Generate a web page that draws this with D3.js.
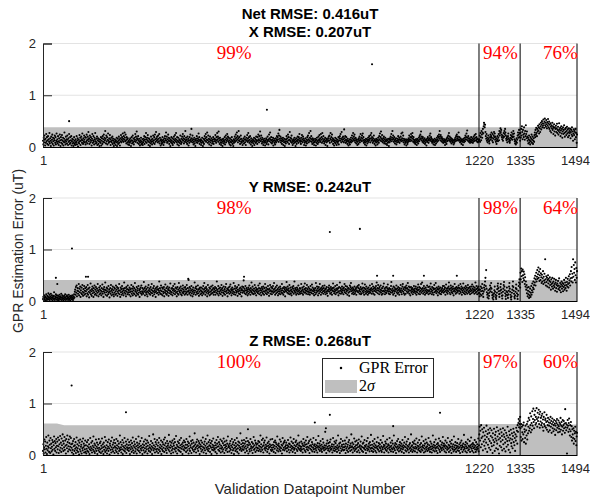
<!DOCTYPE html>
<html>
<head>
<meta charset="utf-8">
<script src="https://cdn.jsdelivr.net/npm/d3@7"></script>
<style>
  html, body { margin: 0; padding: 0; background: #fff; }
  svg { display: block; }
</style>
</head>
<body>
<svg id="chart" width="590" height="500"></svg>
<script>
// GPR estimation error per validation datapoint (hundredths of uT).
// Segments: datapoints 1-1220, 1221-1335, 1336-1494, one value per datapoint.
const segmentStarts = [1, 1221, 1336];
const indexDomain = [1, 1494];
const xTickValues = [1, 1220, 1335, 1494];
const yTickValues = [0, 1, 2];
const boundaryIndices = [1220, 1335, 1494];

const panelTitles = [["Net RMSE: 0.416uT", "X RMSE: 0.207uT"], ["Y RMSE: 0.242uT"], ["Z RMSE: 0.268uT"]];
const coverageLabels = [["99%", "94%", "76%"], ["98%", "98%", "64%"], ["100%", "97%", "60%"]];

// ---- X component ----
const xErrA = [
12,5,18,9,22,14,3,16,8,25,11,19,6,13,21,4,15,10,27,7,17,12,2,20,9,14,24,6,18,11,3,16,13,22,8,19,5,12,26,10,
15,7,21,11,4,17,9,24,13,2,19,8,14,23,6,12,18,3,10,16,28,9,13,5,20,11,15,7,22,14,4,17,10,25,12,6,19,8,13,21,
3,11,16,7,14,2,9,19,6,12,4,15,8,10,21,5,13,17,1,9,14,7,23,11,18,4,12,20,15,8,26,13,6,17,10,22,14,9,19,5,
18,10,24,13,7,20,15,29,11,17,6,22,14,9,19,12,3,16,25,8,13,21,10,5,18,14,27,11,7,16,9,20,4,13,17,6,11,15,2,10,
14,8,19,3,12,17,6,21,10,15,24,9,18,13,31,16,7,22,11,19,5,14,26,12,8,17,10,23,15,4,11,18,9,13,20,6,16,12,2,9,
7,15,11,4,13,9,18,2,10,16,6,12,20,8,14,3,17,11,23,9,15,19,12,26,16,10,21,14,28,18,11,24,13,7,19,15,9,17,5,12,
10,4,14,8,17,11,2,13,19,7,12,22,9,16,5,11,18,14,25,10,20,13,30,17,8,15,21,12,6,16,10,3,13,9,18,5,11,7,15,4,
9,16,12,21,6,14,19,10,27,15,8,18,13,23,11,4,17,9,15,2,12,7,20,10,14,5,16,11,22,8,13,19,6,24,15,10,29,17,12,20,
14,9,22,16,11,25,7,18,13,3,15,10,6,12,19,8,14,4,11,17,9,21,13,16,28,12,20,8,15,10,24,18,13,6,17,11,2,14,9,19,
12,7,17,4,10,15,20,8,13,23,16,11,27,14,9,19,5,12,18,10,3,15,8,13,22,11,6,16,9,20,14,25,12,17,7,21,15,10,31,13,
18,9,14,6,20,11,16,3,13,8,19,12,24,15,10,35,17,13,22,9,15,5,11,18,7,14,2,12,16,9,21,13,8,17,11,26,14,19,6,12,
10,15,4,13,8,18,11,2,9,16,6,14,21,12,17,25,10,19,14,28,13,8,22,16,11,5,15,20,9,13,3,17,12,7,14,10,19,6,15,11,
16,11,23,14,8,19,12,27,15,20,10,30,17,13,6,18,9,14,4,12,8,15,2,11,16,7,13,10,19,5,14,22,9,17,12,25,15,20,11,18,
8,13,5,17,10,3,14,9,19,12,6,11,2,15,8,13,20,10,16,24,12,18,28,14,21,9,17,31,13,19,11,6,15,22,10,16,8,13,4,12,
11,17,7,14,20,9,15,4,12,18,13,23,10,16,27,12,19,8,14,21,11,5,17,9,13,2,10,15,7,12,18,4,11,16,8,14,20,10,13,6,
19,12,24,15,9,21,13,30,17,11,22,14,7,18,10,15,4,12,8,16,11,3,13,9,17,6,14,10,20,12,5,15,24,11,17,28,14,9,19,13,
7,14,10,18,3,12,16,8,13,5,11,17,9,14,21,12,19,15,26,10,22,33,16,13,20,9,17,12,6,15,11,18,4,13,9,16,2,10,14,7,
15,21,11,17,9,24,13,19,6,14,29,12,18,10,16,22,8,13,4,11,15,7,12,18,9,14,2,10,17,6,13,11,20,15,8,19,12,25,16,10,
13,6,18,11,23,15,9,20,12,16,4,13,8,11,17,3,10,14,7,19,12,22,15,9,27,13,18,11,31,16,21,10,14,6,17,12,8,15,4,11,
9,16,12,3,14,8,18,11,6,13,20,9,15,23,12,17,10,25,14,19,8,27,16,11,21,13,7,15,10,18,4,12,16,9,14,2,11,17,13,20,
12,22,8,16,27,14,19,10,24,13,17,6,15,11,3,13,9,18,7,12,16,4,10,14,8,11,19,5,13,17,21,12,25,16,9,29,14,18,11,20,
15,9,34,17,12,21,8,14,19,10,13,6,16,11,3,12,8,15,5,10,14,18,9,13,22,11,17,27,14,20,12,24,16,9,18,13,7,15,11,4,
10,14,6,17,12,20,9,15,25,13,18,11,22,16,26,12,19,8,14,10,5,13,9,16,3,11,15,7,12,18,10,14,21,13,17,9,23,16,27,12,
19,14,8,17,11,22,13,6,15,10,3,12,16,9,14,5,11,18,13,8,21,15,26,12,19,30,16,11,23,14,9,17,12,20,7,15,10,18,13,6,
11,15,4,13,8,16,10,2,14,9,17,12,20,15,25,11,18,31,14,22,16,10,19,13,7,15,11,17,5,12,9,16,13,21,10,14,18,8,15,12,
20,14,26,11,17,28,13,22,9,16,12,5,14,8,11,15,3,12,9,6,14,10,17,13,22,15,11,19,14,25,18,12,21,27,16,10,19,14,8,13,
11,6,15,9,13,4,16,10,14,7,12,18,11,21,15,24,17,30,13,20,16,10,19,12,8,15,11,17,6,13,9,14,3,12,16,10,19,13,8,15,
17,22,12,26,15,19,11,16,8,13,10,14,5,12,9,16,4,11,14,7,13,18,10,15,21,12,19,24,16,31,20,13,23,17,11,19,14,9,16,12,
8,13,10,15,4,12,9,14,6,17,11,19,13,22,16,27,12,20,15,10,18,13,7,16,11,14,9,12,5,13,8,15,11,18,14,21,12,24,17,13,
20,15,28,12,19,14,9,17,11,13,6,15,10,14,4,12,16,9,13,18,11,22,15,19,26,14,32,18,12,21,16,10,17,13,8,15,11,19,14,9,
12,17,8,14,20,11,16,23,13,18,25,12,19,15,10,16,9,14,11,13];
const xErrB = [
15,22,10,27,19,13,31,24,18,28,35,26,40,47,44,38,43,29,21,16,25,12,18,9,14,22,17,11,7,13,
19,24,15,21,28,18,12,25,9,16,22,29,19,26,14,20,10,17,6,12,15,21,11,18,25,13,31,22,27,36,
29,33,24,19,15,22,12,18,27,20,31,25,35,28,22,16,13,19,9,15,21,26,17,11,14,8,12,18,23,16,
28,21,14,19,25,31,20,26,15,11,7,13,5,10,17,8,14,22,28,18,24,33,19,27,12];
const xErrC = [
27,18,35,22,40,29,15,33,24,19,38,26,14,31,21,42,25,17,30,20,12,18,7,15,22,9,13,5,19,11,
16,24,8,14,20,6,12,17,10,23,28,19,33,24,37,27,21,35,30,41,32,38,26,44,36,29,40,47,34,43,
50,38,46,41,53,45,37,49,55,42,47,39,52,44,36,48,41,54,45,38,49,35,43,31,46,39,28,42,36,47,
33,40,25,37,44,30,38,22,35,41,29,36,45,27,33,39,24,31,46,34,28,37,21,32,40,26,35,18,30,38,
25,33,42,27,20,35,29,37,23,31,39,26,34,19,28,36,22,31,27,35,17,29,33,24,38,21,30,12,26,34,
23,31,15,28,35,19,27,8,24];
// isolated large errors: [datapoint index, error in uT]
const xExtra = [[74, 0.50], [627, 0.72], [921, 1.60]];
// 2-sigma band: [datapoint index, uT]
const xBand = [[1, 0.38], [1494, 0.38]];

// ---- Y component ----
const yErrA = [
4,8,2,11,6,3,9,1,7,13,5,2,10,4,8,15,3,6,12,2,9,5,14,7,3,11,6,1,8,4,10,17,5,2,9,6,13,3,7,11,
2,6,10,4,1,8,12,5,3,9,7,14,2,6,11,4,8,1,5,10,3,7,13,6,2,9,4,11,5,8,2,6,12,3,9,5,1,7,10,4,
8,3,11,6,2,9,5,13,7,18,22,12,27,16,30,9,20,25,14,19,33,11,24,17,28,8,21,15,26,13,31,18,10,23,16,29,12,20,25,14,
19,27,9,22,15,31,12,24,18,7,26,16,21,34,13,19,10,23,28,15,20,8,25,17,30,12,22,14,27,19,11,24,16,33,21,9,18,26,13,22,
29,15,20,11,25,18,32,14,23,8,19,27,16,22,36,12,21,17,26,10,24,19,13,29,16,22,7,18,25,14,31,20,11,23,17,28,13,21,9,26,
16,24,12,19,30,14,22,27,10,18,25,15,21,33,13,20,8,26,17,23,12,29,19,15,24,11,21,36,17,25,14,20,9,27,18,23,13,30,16,22,
20,12,26,17,23,9,19,31,14,24,18,11,28,21,15,25,13,35,19,22,10,17,27,14,20,24,12,29,16,21,8,23,18,26,15,30,12,19,25,17,
14,22,37,18,25,11,20,28,16,23,13,19,9,26,17,31,21,14,24,19,12,27,16,22,33,15,20,10,25,18,29,13,21,17,24,8,19,26,15,22,
28,16,23,12,20,38,17,25,14,21,30,13,19,26,11,24,18,15,27,9,22,17,32,20,14,25,12,19,28,16,23,10,21,26,15,20,34,18,13,24,
17,25,11,21,29,15,23,19,33,13,20,26,16,24,9,18,27,14,22,12,35,19,25,16,21,28,13,20,11,24,17,30,15,22,18,26,12,19,27,14,
23,16,31,19,12,25,18,41,21,14,27,17,24,11,20,29,15,22,9,18,26,13,21,16,36,20,25,12,28,17,23,14,19,30,15,22,10,24,18,26,
13,21,26,15,19,11,24,17,29,14,22,35,18,25,12,20,27,16,23,9,19,31,14,21,17,26,11,24,18,13,28,20,15,22,30,16,25,12,19,23,
17,27,12,20,25,16,38,22,14,19,29,11,24,18,15,26,20,13,22,31,17,25,10,21,16,28,14,19,23,12,27,18,33,20,15,24,9,22,17,26,
21,14,28,19,32,16,23,11,20,26,15,22,18,35,13,24,17,29,12,21,25,16,19,27,10,22,18,31,14,20,24,13,26,17,21,9,23,28,16,20,
27,40,18,24,15,21,29,13,20,25,16,22,11,19,26,14,23,30,17,21,12,25,19,36,16,22,28,14,20,13,24,18,31,15,21,26,11,19,23,17,
22,15,30,19,25,13,34,21,16,24,11,20,27,17,23,14,28,19,12,25,18,33,21,15,26,20,13,23,17,29,16,22,10,24,19,31,14,21,27,18,
13,25,19,29,16,22,35,18,24,12,20,27,15,21,30,17,23,11,19,26,14,22,18,28,13,24,20,16,33,21,15,25,12,19,27,17,23,9,20,26,
19,37,23,16,28,21,14,24,18,31,13,20,26,15,22,11,19,27,17,24,29,14,21,38,18,25,16,22,12,20,26,15,23,19,30,13,21,17,25,14,
24,18,33,20,15,26,22,12,19,28,16,23,34,17,21,25,14,20,31,18,23,13,27,19,16,24,12,21,29,17,22,15,32,20,26,14,19,23,11,21,
17,25,13,35,21,16,28,19,24,11,20,27,15,22,33,18,24,12,21,26,16,23,29,19,14,25,20,30,17,22,13,24,18,27,15,21,10,19,26,22,
30,18,24,14,21,27,16,23,12,20,25,34,19,26,15,22,18,29,13,21,24,16,31,22,17,25,11,19,27,15,36,20,25,14,22,18,28,16,21,24,
13,26,20,33,17,23,29,15,22,19,28,12,21,25,16,24,10,18,30,22,27,35,19,24,14,21,26,17,23,13,20,28,15,22,18,25,12,21,27,19,
29,17,25,31,20,14,23,18,27,13,22,15,24,34,19,26,16,21,12,25,32,18,23,14,28,20,17,24,12,19,26,15,22,18,30,16,23,20,25,14,
33,22,18,28,14,24,20,12,26,19,23,29,17,36,21,25,15,31,20,24,13,27,18,22,30,16,21,12,25,19,14,28,20,34,18,24,13,21,26,17,
15,27,20,24,32,18,22,14,25,19,13,23,17,29,37,21,16,24,19,12,28,21,15,26,19,23,10,22,30,17,24,14,20,27,16,22,12,25,19,21,
31,17,24,13,20,28,33,18,23,15,26,12,21,27,14,24,30,19,25,16,35,22,18,28,14,21,26,11,20,27,16,23,19,25,13,22,17,29,21,18,
24,15,28,19,12,23,17,26,21,32,14,22,27,18,13,25,20,33,16,23,36,19,25,14,21,29,17,24,12,20,26,15,22,18,30,16,21,27,13,19,
21,28,15,24,34,18,22,13,27,20,16,25,12,23,31,17,24,19,35,21,15,26,18,23,11,22,28,16,24,19,14,26,20,13,22,17,25,19,29,21,
16,29,23,18,26,12,20,32,24,17,21,14,25,19,28,36,22,16,24,13,30,20,26,17,23,15,28,19,11,24,21,33,18,25,14,22,27,16,20,24,
18,26,30,21,14,25,19,33,16,23,28,12,20,25,17,34,22,15,26,19,13,24,29,17,21,26,14,22,31,18,25,16,20,27,13,23,19,28,15,21,
32,24,17,28,19,22,14,26,20,36,16,23,29,18,13,25,21,28,15,22];
const yErrB = [
16,9,22,13,28,19,11,25,33,20,14,8,18,26,31,22,38,45,29,60,24,17,12,7,14,21,5,10,16,23,
30,19,26,35,24,17,11,6,13,3,9,15,21,28,18,12,7,4,10,16,23,29,34,25,19,13,8,14,20,27,
33,22,16,10,5,11,18,24,31,37,28,21,15,9,4,12,19,26,17,11,6,13,20,28,35,24,18,12,7,3,
9,16,22,29,38,27,20,14,8,5,11,18,25,32,23,15,9,4,12,20,29,36,42,33,26];
const yErrC = [
55,42,63,48,58,37,61,50,44,57,40,52,33,46,28,38,22,31,15,26,9,20,13,27,6,18,11,24,8,16,
29,12,21,34,17,26,38,23,31,44,36,49,30,42,55,38,47,60,43,52,65,45,57,39,50,62,41,54,46,35,
51,38,44,58,33,47,40,53,36,81,42,30,48,37,45,28,41,50,34,43,26,39,46,31,37,22,42,33,28,45,
35,24,38,30,43,27,33,20,36,41,25,31,18,34,29,39,23,30,44,26,21,35,28,17,32,38,24,29,35,19,
33,27,41,22,30,36,25,45,31,20,37,28,43,33,26,48,35,40,52,30,44,58,38,66,45,53,36,81,47,70,
55,62,41,75,50,36,64,45,58];
const yExtra = [[37, 0.45], [41, 0.33], [82, 1.02], [121, 0.47], [127, 0.47], [407, 0.43],
  [563, 0.47], [803, 1.34], [887, 1.40], [935, 0.49], [980, 0.49], [1066, 0.49], [1158, 0.49]];
const yBand = [[1, 0.41], [1494, 0.41]];

// ---- Z component ----
const zErrA = [
8,21,3,15,30,11,26,5,18,35,12,2,24,9,17,38,14,6,28,20,4,33,13,22,7,16,29,10,25,1,19,36,12,27,8,23,15,31,5,18,
26,11,34,17,4,29,21,9,37,14,24,6,32,19,12,40,27,8,22,15,35,10,28,18,3,31,20,13,38,25,7,17,30,11,23,36,16,9,33,21,
14,5,22,10,27,2,17,31,8,19,12,25,4,15,34,9,21,13,6,28,18,1,24,11,30,7,16,20,3,26,13,9,32,15,22,5,18,11,28,6,
19,3,12,25,8,17,29,6,14,21,2,11,33,16,9,24,13,5,27,18,10,36,15,7,22,4,19,12,30,8,16,24,2,13,20,9,31,14,6,23,
11,26,4,18,13,32,7,21,15,2,24,10,17,35,6,14,28,9,19,3,12,25,16,8,30,13,1,22,18,10,27,5,15,34,11,20,7,24,14,29,
4,17,23,9,14,31,6,19,12,27,3,16,22,8,13,38,10,25,15,5,20,11,29,2,17,24,9,14,33,7,18,12,26,4,21,15,10,30,13,19,
8,25,14,2,20,11,28,16,6,23,13,34,9,18,4,26,15,21,7,12,31,17,3,24,10,19,14,36,8,22,16,5,27,12,18,9,33,14,2,21,
15,9,26,19,5,13,30,7,22,16,11,28,3,18,24,12,8,37,15,20,6,13,27,10,17,2,23,14,40,9,19,12,31,5,16,25,11,21,7,29,
12,18,4,24,10,33,15,7,20,13,28,2,17,11,25,8,21,14,30,6,19,34,12,23,9,16,4,27,13,18,22,10,39,15,7,26,14,19,3,24,
9,16,28,12,5,22,18,31,11,25,14,7,37,13,20,3,17,26,10,15,23,8,29,14,19,6,33,12,21,16,2,24,11,18,28,9,15,25,13,20,
6,31,14,20,9,26,17,3,23,12,36,8,19,15,27,4,22,13,29,10,16,24,7,18,42,11,21,14,5,25,17,30,12,19,8,27,15,23,2,16,
20,12,28,7,17,24,10,34,15,5,21,13,26,9,18,31,3,14,22,11,38,16,8,25,12,19,29,6,17,23,14,2,27,10,20,15,32,9,18,13,
11,24,6,19,14,29,3,22,16,35,10,17,25,8,21,13,30,5,18,12,27,15,7,23,11,32,19,4,26,14,20,9,17,28,12,22,6,36,15,19,
16,7,22,13,27,10,18,4,31,15,21,9,25,12,2,19,29,14,8,23,17,11,33,6,20,13,26,3,18,24,10,15,42,12,21,8,28,16,11,23,
18,10,29,14,22,5,17,26,12,33,8,20,15,27,3,19,24,11,7,21,31,13,17,9,25,14,4,22,16,35,10,19,12,28,6,23,15,20,9,14,
22,13,27,8,18,25,11,16,38,7,21,14,29,10,17,32,5,19,24,12,28,15,9,20,13,34,17,6,23,11,18,26,14,3,21,16,30,10,19,8,
14,31,10,20,15,6,25,18,12,28,4,24,16,21,9,36,13,19,7,22,17,11,30,15,8,26,13,20,3,18,33,10,22,14,25,9,28,16,12,19,
24,13,7,19,14,29,17,10,22,5,21,15,34,9,18,26,12,16,6,23,14,31,10,19,13,4,25,17,28,11,20,8,22,15,38,12,19,24,10,17,
13,8,26,16,11,22,5,19,31,12,17,24,9,20,6,28,15,21,11,35,16,9,23,14,27,4,18,12,30,19,10,16,25,7,21,14,33,11,18,6,
21,12,16,29,9,19,14,5,23,17,37,11,15,22,8,18,27,13,10,20,6,16,31,12,24,15,9,19,14,45,11,18,4,22,13,28,16,9,23,12,
18,7,25,14,30,10,17,12,21,5,16,33,9,20,13,26,8,16,23,11,28,15,6,19,12,38,15,9,22,17,4,24,13,31,8,17,20,11,27,15,
9,21,15,10,28,17,4,22,13,34,9,16,20,6,25,12,29,14,18,8,22,15,40,10,17,24,5,14,21,12,32,8,16,26,11,19,13,28,6,20,
15,23,9,30,16,5,19,13,26,11,17,36,8,15,22,6,24,14,12,29,18,10,16,4,20,27,13,9,33,17,11,22,15,7,25,19,12,39,14,8,
20,13,27,6,17,11,22,31,15,8,19,14,5,25,16,12,34,10,18,23,7,15,21,13,29,9,17,6,24,14,11,37,16,20,5,18,13,26,10,22,
15,8,30,17,12,21,5,19,14,33,10,16,24,7,18,13,28,11,22,6,15,38,12,19,9,23,16,4,21,14,27,10,17,31,13,7,20,15,25,9,
18,12,22,6,16,29,11,19,14,4,24,17,35,9,15,21,7,26,13,18,10,31,16,5,20,12,23,14,8,40,17,11,19,6,25,15,9,22,13,28,
7,16,21,12,32,14,5,18,24,10,17,13,29,8,20,15,6,23,11,36,16,9,19,14,27,5,18,12,22,7,30,15,11,24,17,8,21,13,33,10,
19,14,6,26,16,11,22,5,17,13,38,9,20,15,25,7,18,12,30,14,8,21,16,4,23,13,19,32,10,17,6,27,15,12,20,9,24,14,35,18,
11,22,16,7,19,28,13,5,17,24,10,15,33,12,20,6,18,14,26,9,16,22,4,29,13,17,11,21,7,36,15,10,19,25,12,6,18,14,23,9,
17,31,13,8,21,15,4,24,18,11,28,14,19,6,16,22,10,39,15,12,20,7,25,17,13,5,22,14,30,9,18,11,16,27,6,19,15,34,12,21,
8,17,23,13,5,20,15,29,11,18,6,25,14,10,21,16,12,32,7,19];
const zErrB = [
40,55,28,47,15,58,33,21,50,36,9,44,26,53,18,38,30,12,46,24,57,35,6,41,20,49,31,14,43,27,
52,10,37,23,48,17,34,4,42,29,19,51,25,8,39,32,45,13,28,54,22,36,11,47,30,3,41,18,33,50,
26,15,44,37,9,29,52,21,40,12,35,48,24,7,31,43,16,38,27,55,20,34,10,46,28,39,5,32,49,23,
17,42,30,13,37,51,25,44,19,33,8,40,28,53,36,47,22,58,45,62,70,54,66,60,74];
const zErrC = [
52,35,60,28,55,44,31,58,40,63,25,50,45,33,57,22,48,38,60,30,65,42,55,72,47,68,52,81,58,44,
75,62,49,85,57,70,90,64,52,78,68,86,59,74,62,91,70,55,82,66,73,88,60,79,53,84,65,72,58,76,
62,80,54,69,47,74,60,83,56,68,71,53,64,78,49,66,58,72,45,63,57,69,48,62,74,55,66,43,60,71,
52,64,46,58,68,50,61,39,57,66,48,62,70,53,59,44,67,56,51,63,45,60,72,49,57,64,40,55,68,47,
58,66,52,61,43,89,54,62,48,59,3,53,68,57,45,62,71,50,38,58,46,64,35,56,28,50,40,33,52,22,
47,31,42,55,27,45,19,36,43];
const zExtra = [[81, 1.35], [233, 0.83], [574, 0.50], [761, 0.63], [792, 0.52], [803, 0.78], [980, 0.56], [1111, 0.82]];
const zBand = [[1, 0.61], [40, 0.61], [60, 0.58], [1220, 0.58], [1221, 0.60], [1335, 0.60], [1336, 0.59], [1494, 0.59]];

// ---- assemble panels ----
function buildSeries(segments, extra) {
  const pts = [];
  segments.forEach((vals, s) => {
    vals.forEach((v, k) => pts.push({ i: segmentStarts[s] + k, v: v / 100 }));
  });
  extra.forEach(([i, v]) => pts.push({ i, v }));
  return pts;
}

const panels = [
  { series: buildSeries([xErrA, xErrB, xErrC], xExtra), band: xBand },
  { series: buildSeries([yErrA, yErrB, yErrC], yExtra), band: yBand },
  { series: buildSeries([zErrA, zErrB, zErrC], zExtra), band: zBand }
];

// ---- layout ----
const W = 590, H = 500;
const plotLeft = 43, plotRight = 577;
const panelBox = [
  { top: 43.5, bottom: 147 },
  { top: 198, bottom: 301 },
  { top: 352, bottom: 455 }
];
const titleBaselines = [[18.5, 37], [191.5], [345.5]];
const dotRadius = 1.05;
const sansFont = "'Liberation Sans', Arial, sans-serif";
const serifFont = "'Liberation Serif', 'Times New Roman', serif";

const svg = d3.select("#chart");
svg.append("rect").attr("width", W).attr("height", H).attr("fill", "#fff");

const x = d3.scaleLinear().domain(indexDomain).range([plotLeft, plotRight]);
const labelStarts = [487, 1231, 1399];

panels.forEach((p, pi) => {
  const box = panelBox[pi];
  const y = d3.scaleLinear().domain([0, 2]).range([box.bottom, box.top]);
  const g = svg.append("g");

  // horizontal grid lines
  g.selectAll("line.grid").data([1, 2]).join("line")
    .attr("x1", plotLeft).attr("x2", plotRight)
    .attr("y1", d => y(d)).attr("y2", d => y(d))
    .attr("stroke", "#e3e3e3").attr("stroke-width", 1);

  // 2-sigma band
  const area = d3.area().x(d => x(d[0])).y0(y(0)).y1(d => y(d[1]));
  g.append("path").datum(p.band).attr("d", area).attr("fill", "#bfbfbf");

  // errors
  g.append("g").selectAll("circle").data(p.series).join("circle")
    .attr("cx", d => x(d.i)).attr("cy", d => y(d.v)).attr("r", dotRadius)
    .attr("fill", "#000");

  // segment boundaries
  g.selectAll("line.seg").data(boundaryIndices).join("line")
    .attr("x1", d => x(d)).attr("x2", d => x(d))
    .attr("y1", y(0)).attr("y2", y(2))
    .attr("stroke", "#000").attr("stroke-width", 1);

  // left axis
  const ya = g.append("g").attr("transform", `translate(${plotLeft},0)`)
    .call(d3.axisLeft(y).tickValues(yTickValues).tickFormat(d3.format("d")).tickSize(-9).tickPadding(7));
  ya.select(".domain").attr("stroke", "#262626");
  ya.selectAll(".tick line").attr("stroke", "#262626");
  ya.selectAll("text").attr("fill", "#262626").style("font-family", sansFont).style("font-size", "13px");

  // bottom axis
  const xa = g.append("g").attr("transform", `translate(0,${y(0)})`)
    .call(d3.axisBottom(x).tickValues(xTickValues).tickFormat(d3.format("d")).tickSize(0).tickPadding(9));
  xa.select(".domain").attr("stroke", "#000");
  xa.selectAll("text").attr("fill", "#262626").style("font-family", sansFont).style("font-size", "13px");
  // keep the last tick label inside the figure
  xa.selectAll(".tick").filter(d => d === indexDomain[1]).select("text")
    .attr("text-anchor", "end").attr("x", W - 0.5 - plotRight);

  // titles
  panelTitles[pi].forEach((t, ti) => {
    svg.append("text").attr("x", (plotLeft + plotRight) / 2).attr("y", titleBaselines[pi][ti])
      .attr("text-anchor", "middle")
      .style("font-family", sansFont).style("font-size", "15px").style("font-weight", "bold")
      .attr("fill", "#000").text(t);
  });

  // coverage labels
  coverageLabels[pi].forEach((t, li) => {
    g.append("text").attr("x", x(labelStarts[li])).attr("y", y(2) + 15.5)
      .style("font-family", serifFont).style("font-size", "19px")
      .attr("fill", "#ff0000").text(t);
  });
});

// axis labels
svg.append("text")
  .attr("transform", `translate(23,251) rotate(-90)`)
  .attr("text-anchor", "middle")
  .style("font-family", sansFont).style("font-size", "14px")
  .attr("fill", "#262626").text("GPR Estimation Error (uT)");

svg.append("text")
  .attr("x", (plotLeft + plotRight) / 2).attr("y", 494)
  .attr("text-anchor", "middle")
  .style("font-family", sansFont).style("font-size", "15px")
  .attr("fill", "#262626").text("Validation Datapoint Number");

// legend
const lg = svg.append("g");
lg.append("rect").attr("x", 322.5).attr("y", 358.5).attr("width", 111).attr("height", 39)
  .attr("fill", "#fff").attr("stroke", "#262626").attr("stroke-width", 1);
lg.append("circle").attr("cx", 341).attr("cy", 368).attr("r", 1.25).attr("fill", "#000");
lg.append("rect").attr("x", 325).attr("y", 380).attr("width", 32).attr("height", 13).attr("fill", "#bfbfbf");
lg.append("text").attr("x", 359).attr("y", 373)
  .style("font-family", serifFont).style("font-size", "16px")
  .attr("fill", "#000").text("GPR Error");
const sig = lg.append("text").attr("x", 359).attr("y", 391)
  .style("font-family", serifFont).style("font-size", "16px")
  .attr("fill", "#000");
sig.append("tspan").text("2");
sig.append("tspan").style("font-style", "italic").text("σ");
</script>
</body>
</html>
